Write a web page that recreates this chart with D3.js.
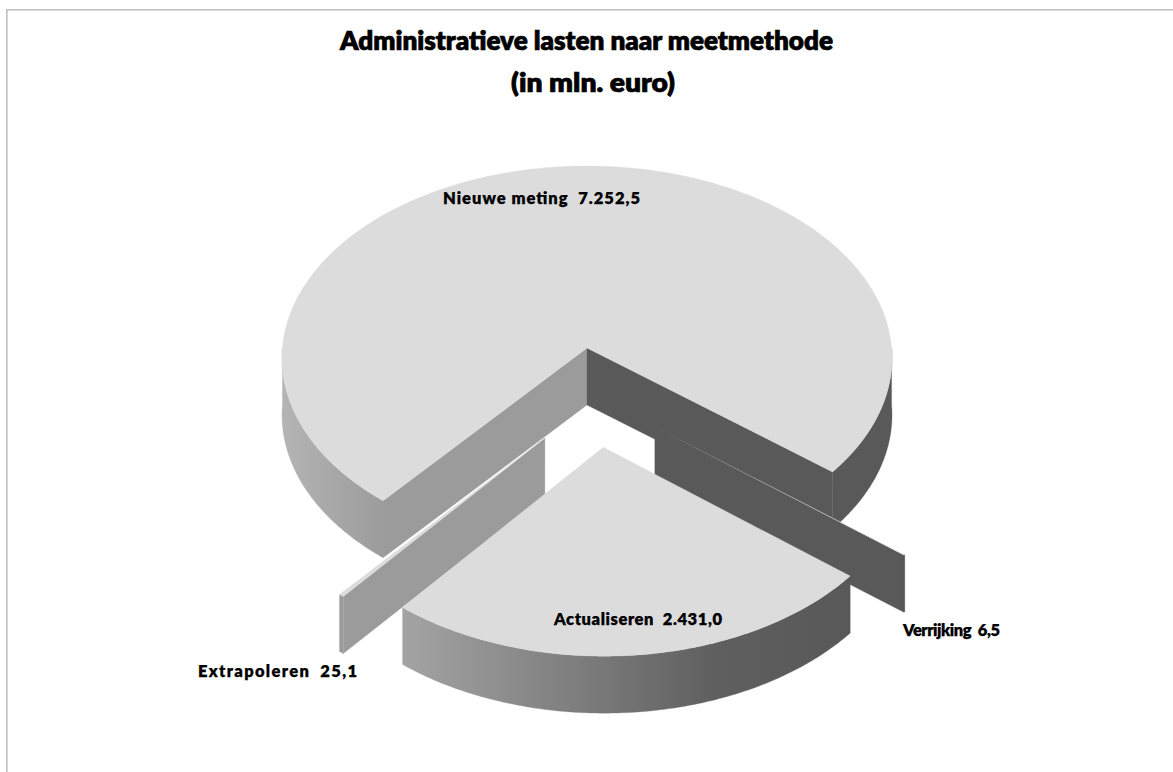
<!DOCTYPE html>
<html><head><meta charset="utf-8">
<style>html,body{margin:0;padding:0;background:#fff}svg{display:block}text{font-family:Lato,"Noto Sans",sans-serif;font-weight:800;fill:#000;stroke:#000}</style>
<script src="https://cdn.jsdelivr.net/npm/d3@7"></script>
</head><body><svg id="c" width="1173" height="772"></svg>
<script>
const categories = ["Nieuwe meting","Verrijking","Actualiseren","Extrapoleren"];
const values = [7252.5,6.5,2431.0,25.1];
const valueLabels = ["7.252,5","6,5","2.431,0","25,1"];
const titleLines = ["Administratieve lasten naar meetmethode","(in mln. euro)"];

// layout
const W=1173,H=772, apex=[587,348], depth=57;
const A=304.6,B=191.5,K=-0.052;
const startDeg=220.0;
const explode=[[0,0],[0.218,0.404],[0.052,0.505],[-0.135,0.459]];
const radius=[1,0.987,0.98,0.975];
const labelPos=[[443,204,197],[903,636,97],[554,625,168],[198,677,159]];

const svg=d3.select("#c");
const defs=svg.append("defs");
function grad(id,x1,x2,stops){
  const g=defs.append("linearGradient").attr("id",id).attr("gradientUnits","userSpaceOnUse")
    .attr("x1",x1).attr("x2",x2).attr("y1",0).attr("y2",0);
  stops.forEach(s=>g.append("stop").attr("offset",s[0]).attr("stop-color",s[1]));
}
grad("rimL",283,385,[[0,"#b4b4b4"],[1,"#9b9b9b"]]);
grad("rimA",401,851,[[0,"#a4a4a4"],[0.7,"#5f5f5f"],[1,"#585858"]]);

const TOP="#dcdcdc", LIGHT="#9b9b9b", DARK="#595959";

// project: disc coordinates -> picture, with a slight perspective
const sx=d3.scaleLinear().domain([0,1]).range([0,A]);
const sy=d3.scaleLinear().domain([0,1]).range([0,B]);
function proj(u,v,drop){
  const d=1+K*v;
  return [apex[0]+sx(u)/d, apex[1]+sy(v)/d+(drop||0)];
}
const pie=d3.pie().sort(null).startAngle(startDeg*Math.PI/180).endAngle(startDeg*Math.PI/180+2*Math.PI);
const arcs=pie(values);
const line=d3.line();
function pt(t,e,r,drop){return proj(e[0]+r*Math.sin(t),e[1]-r*Math.cos(t),drop);}
function rimPts(a,e,r,drop){
  const n=Math.max(2,Math.ceil((a.endAngle-a.startAngle)/0.01));
  return d3.range(n+1).map(i=>pt(a.startAngle+(a.endAngle-a.startAngle)*i/n,e,r,drop));
}
function add(pts,fill,sw){
  svg.append("path").attr("d",line(pts)+"Z").attr("fill",fill)
    .attr("stroke",fill).attr("stroke-width",sw===undefined?0.3:sw);
}
function topFace(a,e,r,sw){ add([proj(e[0],e[1],0)].concat(rimPts(a,e,r,0)),TOP,sw); }
function wall(t,e,r,fill){
  add([proj(e[0],e[1],0),pt(t,e,r,0),pt(t,e,r,depth),proj(e[0],e[1],depth)],fill);
}
function rim(a,e,r,fill){
  add(rimPts(a,e,r,0).concat(rimPts(a,e,r,depth).reverse()),fill);
}

// frame: only left and top edges are visible
svg.append("rect").attr("x",6).attr("y",9).attr("width",W).attr("height",1.6).attr("fill","#bfbfbf");
svg.append("rect").attr("x",6).attr("y",9).attr("width",1.6).attr("height",H).attr("fill","#bfbfbf");

// main slice
const m=arcs[0], e0=explode[0], r0=radius[0];
wall(m.startAngle,e0,r0,LIGHT);
wall(m.endAngle,e0,r0,DARK);
rim({startAngle:m.startAngle,endAngle:1.5*Math.PI},e0,r0,"url(#rimL)");
rim({startAngle:2.5*Math.PI,endAngle:m.endAngle},e0,r0,DARK);
topFace(m,e0,r0);

// Verrijking
const vr=arcs[1], e1=explode[1], r1=radius[1];
wall(vr.endAngle,e1,r1,DARK);
rim(vr,e1,r1,DARK);
topFace(vr,e1,r1,0);

// Extrapoleren
const ex=arcs[3], e3=explode[3], r3=radius[3];
wall(ex.startAngle,e3,r3,LIGHT);
rim(ex,e3,r3,LIGHT);
topFace(ex,e3,r3);

// Actualiseren
const ac=arcs[2], e2=explode[2], r2=radius[2];
rim(ac,e2,r2,"url(#rimA)");
topFace(ac,e2,r2);

// labels
categories.forEach((c,i)=>{
  svg.append("text").attr("x",labelPos[i][0]).attr("y",labelPos[i][1])
    .attr("font-size",16.5).attr("stroke-width",0.25)
    .attr("textLength",labelPos[i][2]).attr("lengthAdjust","spacing")
    .attr("xml:space","preserve").style("white-space","pre")
    .text(c+"  "+valueLabels[i]);
});
// title
svg.append("text").attr("x",340).attr("y",50).attr("font-size",26.5).attr("stroke-width",0.7)
  .attr("textLength",493).attr("lengthAdjust","spacingAndGlyphs").text(titleLines[0]);
svg.append("text").attr("x",511).attr("y",92).attr("font-size",26.5).attr("stroke-width",0.7)
  .attr("textLength",164).attr("lengthAdjust","spacingAndGlyphs").text(titleLines[1]);
</script></body></html>
